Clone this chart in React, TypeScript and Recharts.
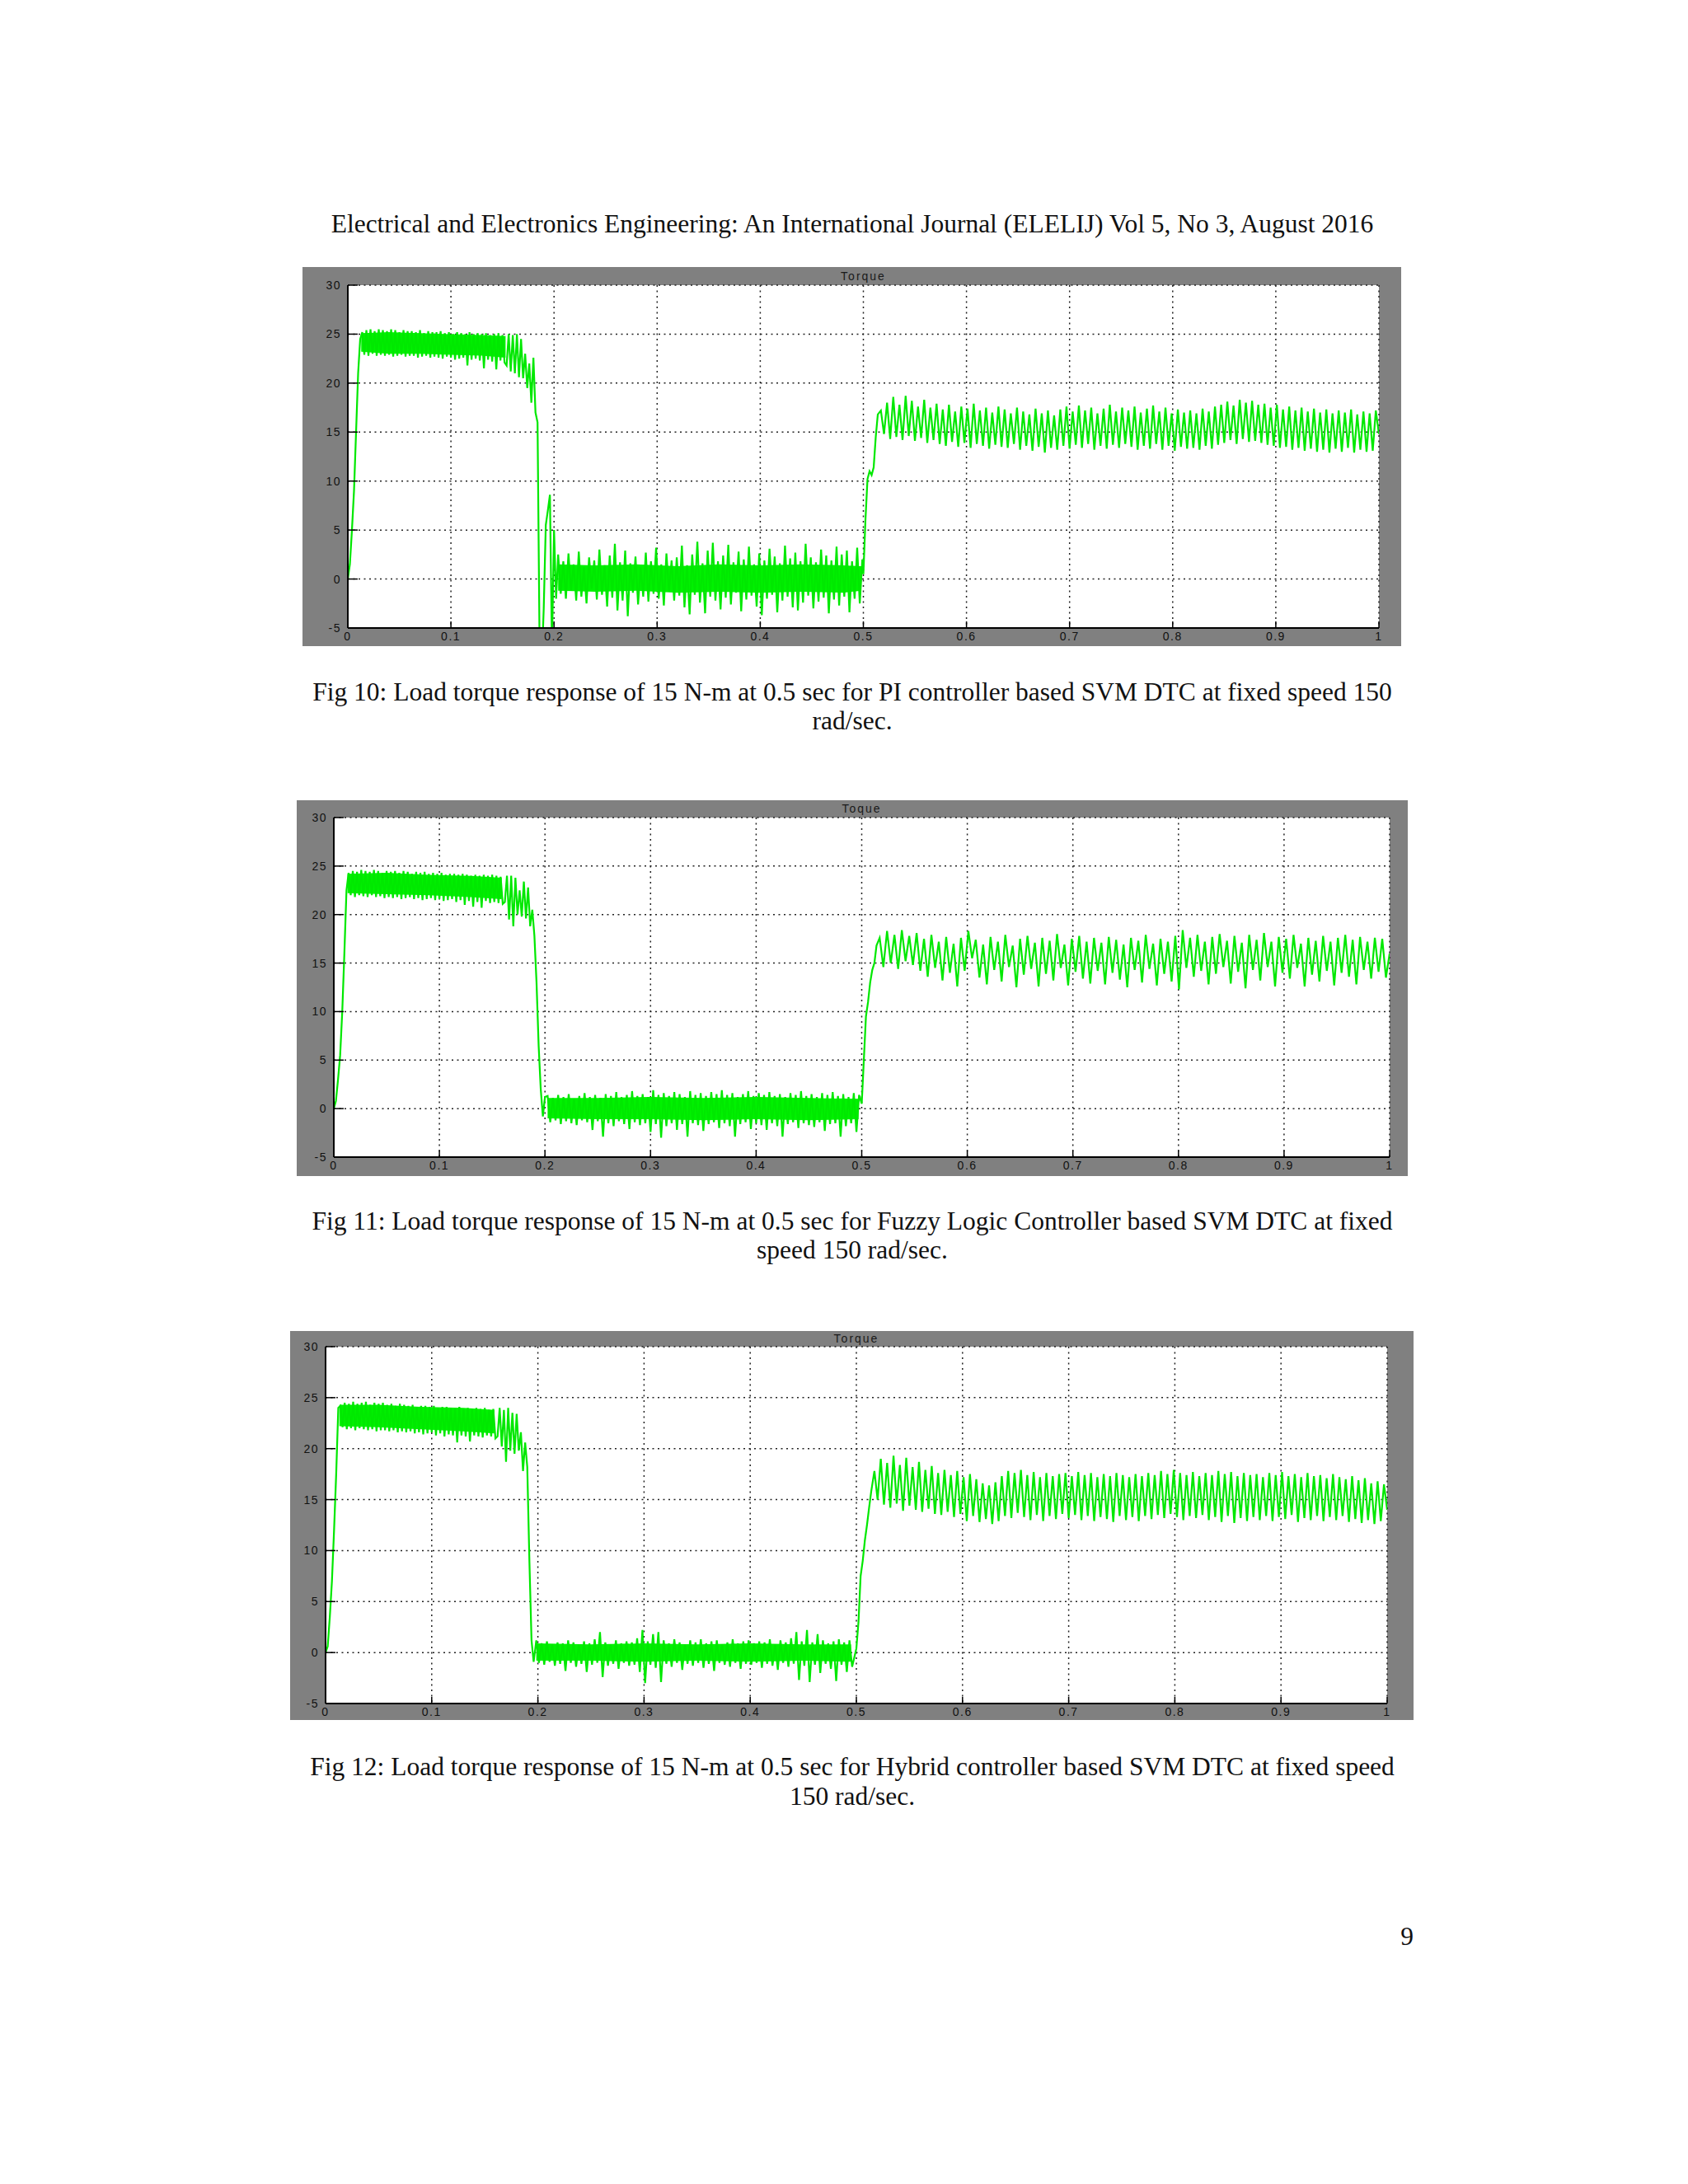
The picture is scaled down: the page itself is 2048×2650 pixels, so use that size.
import React from 'react';
import { ComposedChart, Line, Area, XAxis, YAxis, CartesianGrid } from 'recharts';

type Segment = { from: number; step: number; v: number[] };
type Core = [number, number, number][]; // [time, low, high] of the solid green core

const xTicks = [0, 0.1, 0.2, 0.3, 0.4, 0.5, 0.6, 0.7, 0.8, 0.9, 1];
const yTicks = [-5, 0, 5, 10, 15, 20, 25, 30];

// Fig 10 - PI controller
const piRise = [0, 1.5, 5, 9, 15, 21, 24.5];
const piBand = [
  25.2, 22.9, 25.4, 22.8, 25.5, 23.0, 25.3, 22.8, 25.5, 22.9, 25.4, 22.8, 25.3, 22.9, 25.5, 22.7, 25.4, 22.8, 25.2, 22.9,
  25.4, 22.7, 25.3, 22.8, 25.3, 22.8, 25.2, 22.6, 25.4, 22.7, 25.1, 22.8, 25.3, 22.6, 25.2, 22.7, 25.2, 22.6, 25.3, 22.5,
  25.1, 22.7, 25.2, 22.6, 25.0, 22.4, 25.2, 22.5, 25.1, 22.6, 25.0, 21.8, 25.2, 22.4, 25.0, 22.5, 25.1, 22.3, 25.0, 21.5,
  25.1, 22.4, 24.9, 22.2, 25.0, 21.4, 25.1, 22.3, 24.9, 22.1,
];
const piDrop = [
  21.8, 25.0, 21.2, 24.9, 21.0, 25.0, 20.6, 24.5, 20.5, 23.0, 19.5, 22.0, 18.0, 22.6, 17.0, 16.0,
  -7, -9, -3, 5.5, 7.0, 8.6, -7, 5.0, -2.0,
];
const piNoise = [
  2.5, -1.5, 1.8, -2.0, 2.6, -1.2, 1.5, -2.2, 2.8, -1.8, 1.2, -2.5, 2.2, -1.0, 1.9, -2.1, 3.0, -1.6, 1.4, -2.8,
  2.4, -1.9, 3.6, -3.2, 1.7, -2.2, 2.9, -3.8, 1.6, -1.4, 2.3, -2.6, 1.2, -1.8, 2.7, -2.3, 1.8, -1.5, 3.2, -2.0,
  1.5, -2.7, 2.6, -1.3, 1.9, -2.2, 2.2, -1.7, 3.4, -2.9, 1.4, -3.6, 2.5, -1.6, 3.8, -2.4, 1.6, -3.5, 2.9, -1.8,
  3.7, -2.2, 1.8, -3.1, 2.4, -1.9, 3.5, -2.6, 1.7, -1.4, 2.8, -3.3, 2.0, -2.1, 3.3, -1.7, 1.5, -2.8, 2.6, -3.7,
  1.9, -2.0, 3.1, -1.6, 2.3, -3.4, 1.6, -2.2, 3.4, -1.8, 2.1, -2.9, 2.7, -3.2, 1.8, -2.4, 3.6, -1.7, 2.2, -3.0,
  1.7, -2.3, 3.0, -1.9, 2.4, -3.5, 1.9, -2.1, 3.3, -2.7, 2.5, -1.8, 2.9, -3.4, 1.8, -2.0, 3.2, -2.5, 2.0,
];
const piStep = [0.5, 6, 10.2, 11.0, 10.6, 11.4, 14.5, 16.8];
const piRipple = [
  17.2, 14.8, 18.0, 14.3, 18.6, 14.5, 17.8, 14.2, 18.7, 14.6, 18.2, 14.1, 17.6, 14.4, 18.3, 13.9, 17.5, 14.2, 17.9, 13.8,
  17.3, 13.6, 17.8, 14.0, 17.1, 13.5, 17.6, 13.9, 17.4, 13.4, 17.9, 13.8, 17.2, 13.6, 17.5, 13.3, 17.0, 13.7, 17.6, 13.5,
  17.3, 13.4, 16.9, 13.8, 17.5, 13.2, 17.1, 13.6, 16.8, 13.1, 17.4, 13.5, 16.9, 12.9, 17.2, 13.4, 16.7, 13.2, 17.3, 13.6,
  17.6, 13.3, 17.1, 13.7, 17.7, 13.4, 17.2, 13.8, 17.5, 13.2, 16.9, 13.6, 17.4, 13.3, 17.8, 13.7, 17.1, 13.4, 17.5, 13.8,
  17.2, 13.5, 17.6, 13.2, 17.0, 13.6, 17.4, 13.3, 17.7, 13.8, 17.1, 13.2, 17.5, 13.6, 16.9, 13.1, 17.3, 13.5, 17.0, 13.3,
  17.2, 13.4, 16.9, 13.2, 17.4, 13.6, 17.1, 13.3, 17.6, 13.7, 17.8, 13.9, 18.1, 14.2, 17.7, 13.8, 18.3, 14.3, 18.0, 14.0,
  18.2, 14.1, 17.8, 13.9, 17.9, 13.7, 17.5, 13.6, 17.8, 13.4, 17.3, 13.5, 17.6, 13.2, 17.2, 13.4, 17.5, 13.1, 17.1, 13.3,
  17.4, 13.0, 17.0, 13.2, 17.3, 12.9, 16.9, 13.3, 17.2, 13.0, 17.0, 13.4, 17.3, 12.9, 16.8, 13.2, 17.1, 13.0, 16.9, 13.1,
  17.2, 14.8,
];
const piBandCore: Core = [[0.013, 23.2, 25.1], [0.04, 23.0, 25.2], [0.07, 23.0, 25.1], [0.1, 22.9, 25.0], [0.13, 22.8, 24.9], [0.153, 22.6, 24.8]];
const piNoiseCore: Core = [
  [0.204, -1.2, 1.5], [0.24, -1.3, 1.4], [0.28, -1.2, 1.5], [0.32, -1.4, 1.3], [0.36, -1.3, 1.5],
  [0.4, -1.4, 1.4], [0.44, -1.3, 1.5], [0.48, -1.4, 1.4], [0.498, -1.2, 1.3],
];

// Fig 11 - fuzzy logic controller
const fzRise = [0, 0.8, 3, 5.5, 10, 16, 22.5];
const fzBand = [
  24.3, 22.0, 24.5, 21.8, 24.4, 22.0, 24.6, 21.9, 24.5, 21.8, 24.4, 22.0, 24.6, 21.8, 24.5, 21.9, 24.3, 21.7, 24.5, 21.8,
  24.4, 21.7, 24.5, 21.8, 24.3, 21.6, 24.5, 21.7, 24.4, 21.8, 24.2, 21.6, 24.4, 21.7, 24.3, 21.5, 24.4, 21.6, 24.2, 21.7,
  24.3, 21.5, 24.2, 21.6, 24.3, 21.4, 24.1, 21.5, 24.2, 21.6, 24.2, 21.3, 24.1, 21.5, 24.2, 21.0, 24.1, 21.4, 24.0, 20.8,
  24.1, 21.3, 24.0, 20.7, 24.1, 21.4, 24.0, 21.2, 24.1, 21.3, 24.0, 21.2, 23.9, 21.1,
];
const fzDrop = [
  21.3, 24.0, 19.5, 24.0, 18.8, 23.8, 20.0, 22.5, 19.8, 23.4, 19.6, 22.8, 18.8, 20.5, 17.8, 13.0, 6.5, 2.0, -0.8, 1.2,
];
const fzNoise = [
  1.3, -1.4, 1.1, -1.2, 1.4, -1.6, 1.2, -1.3, 1.5, -1.5, 1.0, -1.7, 1.3, -1.2, 1.6, -1.4, 1.2, -2.2, 1.4, -1.3,
  1.1, -2.9, 1.5, -1.5, 1.3, -1.8, 1.7, -1.3, 1.2, -1.6, 1.4, -2.1, 1.8, -1.4, 1.3, -1.7, 1.5, -1.5, 1.2, -2.4,
  1.9, -1.6, 1.4, -3.0, 1.6, -1.8, 1.3, -1.5, 1.7, -2.2, 1.5, -1.6, 1.2, -2.9, 1.8, -1.5, 1.4, -1.7, 1.6, -2.3,
  1.3, -1.6, 1.7, -1.4, 1.5, -2.0, 1.9, -1.5, 1.4, -1.8, 1.6, -2.9, 1.2, -1.6, 1.5, -1.4, 1.8, -2.1, 1.3, -1.5,
  1.6, -1.7, 1.4, -2.2, 1.7, -1.5, 1.3, -1.8, 1.5, -2.9, 1.2, -1.6, 1.6, -1.4, 1.4, -2.0, 1.8, -1.5, 1.3, -1.7,
  1.5, -1.9, 1.2, -1.4, 1.6, -2.3, 1.4, -1.6, 1.7, -1.5, 1.3, -2.9, 1.5, -1.8, 1.2, -1.5, 1.6, -2.4, 1.4,
];
const fzStep = [0.5, 5.0, 9.5, 11.0, 13.0, 14.3, 15.0, 16.8];
const fzRipple = [
  17.6, 14.6, 18.3, 15.0, 17.9, 14.4, 18.4, 15.2, 17.8, 14.8, 18.1, 14.2, 17.5, 13.6, 17.9, 14.5, 17.2, 13.2, 17.7, 14.0,
  17.0, 12.6, 17.6, 14.2, 18.3, 15.5, 17.4, 13.5, 16.9, 12.8, 17.7, 14.3, 17.2, 13.1, 17.9, 14.6, 16.8, 12.5, 17.5, 13.8,
  17.8, 14.4, 17.1, 12.6, 17.6, 13.9, 17.3, 13.2, 18.0, 14.5, 16.9, 12.7, 17.5, 14.1, 17.8, 13.4, 17.2, 12.9, 17.6, 14.2,
  17.1, 12.8, 17.7, 14.0, 17.4, 13.3, 16.9, 12.5, 17.6, 14.3, 17.3, 13.0, 17.9, 14.4, 17.0, 12.7, 17.5, 13.9, 17.2, 13.1,
  17.8, 12.3, 18.4, 14.5, 17.6, 13.6, 17.9, 14.2, 17.2, 12.8, 17.7, 13.9, 18.0, 14.6, 17.3, 12.9, 17.8, 14.1, 17.1, 12.4,
  17.9, 14.3, 17.4, 13.2, 18.1, 14.6, 17.2, 12.6, 17.7, 14.0, 17.5, 13.4, 17.9, 14.5, 17.0, 12.6, 17.6, 13.8, 17.3, 13.1,
  17.8, 14.2, 17.2, 12.7, 17.6, 14.0, 17.9, 13.6, 17.4, 12.8, 17.7, 14.3, 17.2, 13.4, 17.6, 14.1, 17.5, 13.5, 16.0,
];
const fzBandCore: Core = [[0.013, 22.2, 24.2], [0.05, 22.1, 24.3], [0.09, 22.0, 24.1], [0.13, 21.8, 24.0], [0.159, 21.6, 23.8]];
const fzNoiseCore: Core = [
  [0.2025, -1.0, 1.1], [0.25, -1.1, 1.1], [0.3, -1.1, 1.2], [0.35, -1.2, 1.1], [0.4, -1.1, 1.2], [0.45, -1.2, 1.1], [0.497, -1.1, 1.0],
];

// Fig 12 - hybrid controller
const hyRise = [0, 0.6, 3.5, 7.0, 12.0, 17.5, 24.0];
const hyBand = [
  24.2, 22.1, 24.5, 21.9, 24.4, 22.0, 24.6, 21.8, 24.4, 22.0, 24.5, 21.9, 24.6, 21.8, 24.3, 21.9, 24.5, 21.7, 24.4, 21.8,
  24.5, 21.8, 24.3, 21.7, 24.4, 21.8, 24.2, 21.6, 24.4, 21.7, 24.3, 21.6, 24.2, 21.7, 24.3, 21.5, 24.1, 21.6, 24.2, 21.4,
  24.2, 21.5, 24.1, 21.6, 24.2, 21.3, 24.0, 21.5, 24.1, 21.2, 24.1, 21.4, 24.0, 21.3, 24.0, 20.6, 24.1, 21.3, 23.9, 21.2,
  24.0, 20.7, 23.9, 21.3, 24.0, 21.2, 23.9, 21.1, 24.0, 21.3, 23.8, 21.2, 23.9, 21.0,
];
const hyDrop = [21.2, 24.0, 20.2, 23.8, 18.7, 24.0, 19.8, 23.5, 19.5, 23.4, 19.8, 21.6, 17.8, 20.6, 18.2, 9.0, 1.2, -0.9];
const hyNoise = [
  1.2, -1.0, 0.9, -1.2, 1.1, -0.9, 0.8, -1.3, 1.0, -1.1, 0.9, -1.8, 1.2, -1.0, 1.0, -1.4, 0.8, -1.1, 1.1, -1.9,
  0.9, -1.2, 1.3, -1.0, 2.0, -2.4, 1.0, -1.3, 0.8, -1.1, 1.2, -1.6, 0.9, -1.0, 1.1, -1.3, 1.0, -1.2, 1.4, -1.9,
  2.2, -3.0, 1.1, -1.2, 1.8, -1.5, 2.0, -2.9, 1.2, -1.1, 0.9, -1.4, 1.3, -1.0, 1.0, -1.7, 0.8, -1.1, 1.2, -1.3,
  1.0, -1.0, 1.3, -1.5, 0.9, -1.1, 1.1, -1.8, 1.2, -1.0, 0.8, -1.2, 1.0, -1.4, 1.3, -1.0, 0.9, -1.6, 1.1, -1.1,
  1.2, -1.2, 0.9, -1.0, 1.1, -1.5, 1.0, -1.1, 1.3, -1.3, 0.8, -1.7, 1.2, -1.0, 1.0, -1.4, 1.4, -1.1, 2.0, -2.7,
  1.1, -1.3, 2.2, -2.9, 1.0, -1.2, 1.8, -2.0, 1.2, -1.1, 0.9, -1.6, 1.1, -2.8, 1.3, -1.2, 1.0, -1.9, 1.2, -1.4,
];
const hyStep = [0.4, 3.0, 7.5, 9.0, 11.0, 12.5, 14.2, 15.8];
const hyRipple = [
  17.8, 15.0, 19.0, 14.5, 18.6, 14.2, 19.3, 14.6, 18.4, 13.9, 19.1, 14.4, 18.2, 14.0, 18.7, 13.8, 17.9, 14.1, 18.3, 13.6,
  17.6, 13.5, 17.9, 13.8, 17.4, 13.3, 17.8, 13.6, 17.2, 12.9, 17.5, 13.4, 17.0, 12.8, 16.6, 13.1, 16.4, 12.6, 16.7, 12.9,
  17.3, 13.4, 17.8, 13.2, 17.6, 13.7, 17.9, 13.3, 17.4, 13.0, 17.7, 13.5, 17.2, 12.9, 17.6, 13.4, 17.3, 13.1, 17.5, 13.6,
  17.6, 13.2, 17.3, 13.5, 17.7, 13.0, 17.4, 13.4, 17.6, 12.9, 17.2, 13.3, 17.5, 13.1, 17.3, 12.8, 17.6, 13.4, 17.4, 13.0,
  17.2, 13.3, 17.5, 12.9, 17.3, 13.4, 17.6, 13.1, 17.4, 13.5, 17.8, 13.2, 17.5, 13.6, 17.9, 13.3, 17.6, 13.0, 17.4, 13.4,
  17.7, 13.2, 17.3, 13.5, 17.6, 13.0, 17.4, 13.3, 17.8, 12.8, 17.5, 13.4, 17.7, 12.7, 17.3, 13.2, 17.6, 12.9, 17.4, 13.3,
  17.5, 13.0, 17.2, 13.4, 17.6, 12.9, 17.4, 13.3, 17.7, 13.1, 17.3, 13.5, 17.5, 12.8, 17.2, 13.2, 17.6, 13.0, 17.3, 13.4,
  17.4, 12.9, 17.1, 13.3, 17.5, 13.0, 17.2, 13.4, 17.0, 12.8, 17.3, 13.1, 16.9, 12.7, 17.1, 13.0, 16.6, 12.6, 16.8, 12.9,
  16.5, 14.0,
];
const hyBandCore: Core = [[0.013, 22.2, 24.3], [0.05, 22.1, 24.3], [0.09, 21.9, 24.1], [0.13, 21.7, 24.0], [0.159, 21.5, 23.8]];
const hyNoiseCore: Core = [
  [0.1985, -0.8, 0.9], [0.25, -0.8, 0.8], [0.3, -0.9, 0.9], [0.35, -0.8, 0.8], [0.4, -0.9, 0.9], [0.45, -0.8, 0.8], [0.495, -0.9, 0.8],
];

const piSegments: Segment[] = [
  { from: 0, step: 0.002, v: piRise },
  { from: 0.014, step: 0.002, v: piBand },
  { from: 0.154, step: 0.002, v: piDrop },
  { from: 0.204, step: 0.0025, v: piNoise },
  { from: 0.5, step: 0.002, v: piStep },
  { from: 0.517, step: 0.003, v: piRipple },
];
const fzSegments: Segment[] = [
  { from: 0, step: 0.002, v: fzRise },
  { from: 0.014, step: 0.002, v: fzBand },
  { from: 0.162, step: 0.002, v: fzDrop },
  { from: 0.2025, step: 0.0025, v: fzNoise },
  { from: 0.5, step: 0.002, v: fzStep },
  { from: 0.517, step: 0.0035, v: fzRipple },
];
const hySegments: Segment[] = [
  { from: 0, step: 0.002, v: hyRise },
  { from: 0.014, step: 0.002, v: hyBand },
  { from: 0.162, step: 0.002, v: hyDrop },
  { from: 0.1985, step: 0.0025, v: hyNoise },
  { from: 0.5, step: 0.002, v: hyStep },
  { from: 0.517, step: 0.003, v: hyRipple },
];

const toPoints = (segs: Segment[]) =>
  segs.flatMap((s) => s.v.map((v, i) => ({ t: Math.round((s.from + i * s.step) * 1e5) / 1e5, v })));
const toCore = (core: Core) => core.map(([t, lo, hi]) => ({ t, band: [lo, hi] }));

const FRAME = '#808080';
const GREEN = '#00e800';
const CORE = '#00f200';
const sans = '"Liberation Sans", Arial, Helvetica, sans-serif';
const serif = '"Liberation Serif", "Times New Roman", serif';

type Box = { x: number; y: number; w: number; h: number };
type Pad = { l: number; t: number; r: number; b: number };

const ScopePlot = ({ title, segments, cores, box, pad }: { title: string; segments: Segment[]; cores: Core[]; box: Box; pad: Pad }) => {
  const data = toPoints(segments);
  const plotW = box.w - pad.l - pad.r;
  const tickText = { fill: '#111', fontSize: 14, fontFamily: sans, letterSpacing: 1.5 };
  const border = { stroke: '#000', strokeWidth: 2 };
  const tickMark = { stroke: '#000', strokeWidth: 1.5 };
  return (
    <div style={{ position: 'absolute', left: box.x, top: box.y, width: box.w, height: box.h, background: FRAME }}>
      <ComposedChart width={box.w} height={box.h} data={data} margin={{ top: pad.t, right: pad.r, bottom: 0, left: 0 }}>
        <CartesianGrid fill="#fff" fillOpacity={1} stroke="#222" strokeDasharray="2 4.5" strokeWidth={1.5} />
        <XAxis
          dataKey="t" type="number" domain={[0, 1]} ticks={xTicks} interval={0} allowDataOverflow
          height={pad.b} tickSize={-8} tickMargin={13} axisLine={border} tickLine={tickMark} tick={tickText}
        />
        <XAxis
          xAxisId="top" orientation="top" type="number" domain={[0, 1]} ticks={xTicks} interval={0}
          height={0} tickSize={-8} axisLine={border} tickLine={tickMark} tick={false}
        />
        <YAxis
          type="number" domain={[-5, 30]} ticks={yTicks} interval={0} allowDataOverflow
          width={pad.l} tickSize={-12} tickMargin={20} axisLine={border} tickLine={tickMark} tick={tickText}
        />
        <YAxis
          yAxisId="right" orientation="right" type="number" domain={[-5, 30]} ticks={yTicks} interval={0}
          width={0} tickSize={-12} axisLine={border} tickLine={tickMark} tick={false}
        />
        {cores.map((c, i) => (
          <Area
            key={i} data={toCore(c)} dataKey="band" type="linear" stroke="none" fill={CORE} fillOpacity={1}
            isAnimationActive={false}
          />
        ))}
        <Line type="linear" dataKey="v" stroke={GREEN} strokeWidth={2.2} dot={false} isAnimationActive={false} />
      </ComposedChart>
      <div
        style={{
          position: 'absolute', left: pad.l, top: 0, width: plotW, height: pad.t, lineHeight: `${pad.t}px`,
          textAlign: 'center', fontSize: 14, fontFamily: sans, color: '#1a1a1a', letterSpacing: 2,
        }}
      >
        {title}
      </div>
    </div>
  );
};

const TextLine = ({ y, children }: { y: number; children: React.ReactNode }) => (
  <div
    style={{
      position: 'absolute', left: 334, width: 1400, top: y - 18, height: 36, lineHeight: '36px',
      textAlign: 'center', fontFamily: serif, fontSize: 31.5, color: '#111', whiteSpace: 'nowrap',
    }}
  >
    {children}
  </div>
);

export default function App() {
  return (
    <div style={{ position: 'absolute', left: 0, top: 0, width: 2048, height: 2650, background: '#fff' }}>
      <TextLine y={272}>
        Electrical and Electronics Engineering: An International Journal (ELELIJ) Vol 5, No 3, August 2016
      </TextLine>

      <ScopePlot
        title="Torque" segments={piSegments} cores={[piBandCore, piNoiseCore]}
        box={{ x: 367, y: 324, w: 1333, h: 460 }} pad={{ l: 55, t: 22, r: 27, b: 22 }}
      />
      <TextLine y={840}>
        Fig 10: Load torque response of 15 N-m at 0.5 sec for PI controller based SVM DTC at fixed speed 150
      </TextLine>
      <TextLine y={875}>rad/sec.</TextLine>

      <ScopePlot
        title="Toque" segments={fzSegments} cores={[fzBandCore, fzNoiseCore]}
        box={{ x: 360, y: 971, w: 1348, h: 456 }} pad={{ l: 45, t: 21, r: 22, b: 23 }}
      />
      <TextLine y={1482}>
        Fig 11: Load torque response of 15 N-m at 0.5 sec for Fuzzy Logic Controller based SVM DTC at fixed
      </TextLine>
      <TextLine y={1517}>speed 150 rad/sec.</TextLine>

      <ScopePlot
        title="Torque" segments={hySegments} cores={[hyBandCore, hyNoiseCore]}
        box={{ x: 352, y: 1615, w: 1363, h: 472 }} pad={{ l: 43, t: 19, r: 32, b: 20 }}
      />
      <TextLine y={2144}>
        Fig 12: Load torque response of 15 N-m at 0.5 sec for Hybrid controller based SVM DTC at fixed speed
      </TextLine>
      <TextLine y={2180}>150 rad/sec.</TextLine>

      <div
        style={{
          position: 'absolute', left: 1615, width: 100, top: 2332, height: 36, lineHeight: '36px',
          textAlign: 'right', fontFamily: serif, fontSize: 31.5, color: '#111',
        }}
      >
        9
      </div>
    </div>
  );
}
